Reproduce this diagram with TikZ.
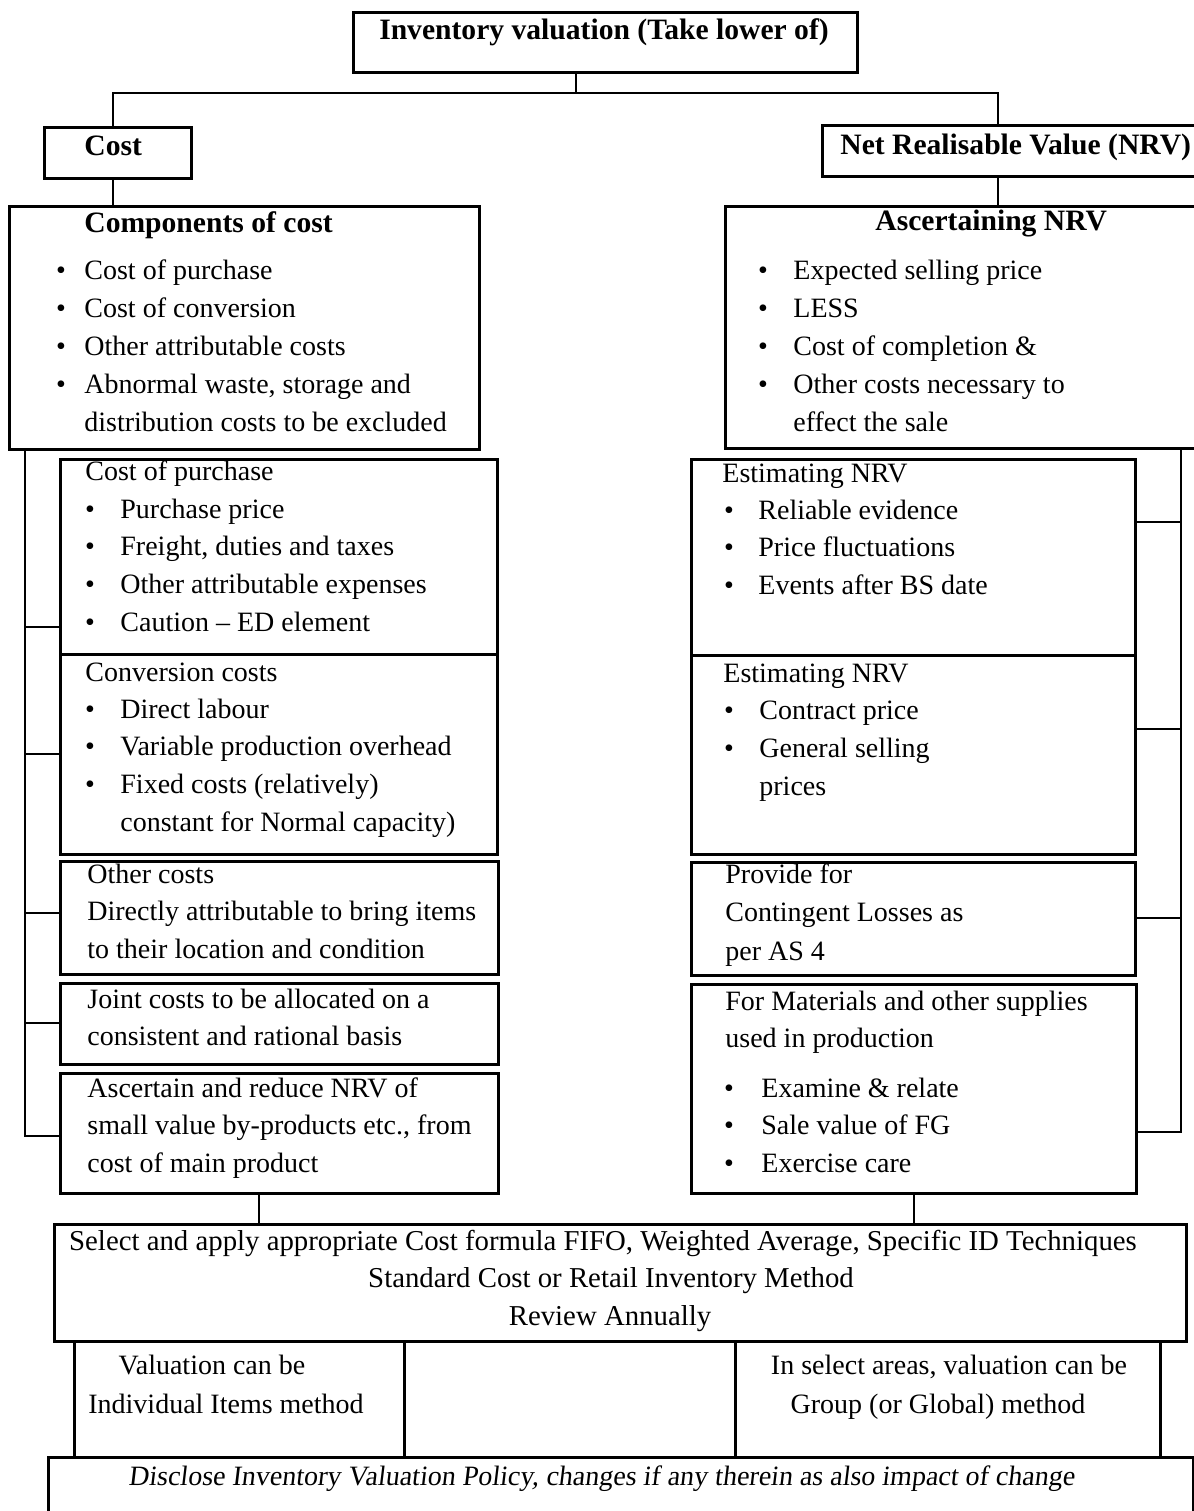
\documentclass[tikz,border=0pt]{standalone}
\usepackage{fontspec}
\setmainfont{Liberation Serif}
\newfontfamily\slantfont{Liberation Serif}[FakeSlant=0.12]
\newcommand\bodysize{\fontsize{14}{17}\selectfont}
\newcommand\widesize{\fontsize{14.4}{17}\selectfont}
\newcommand\headsize{\fontsize{14.8}{18}\selectfont\bfseries}
\tikzset{
  frame/.style={draw, line width=1.3pt, inner sep=0pt, anchor=north west},
  link/.style={line width=1pt},
  tx/.style={anchor=base west, inner sep=0pt, font=\bodysize},
  txc/.style={anchor=base, inner sep=0pt, font=\bodysize},
  hd/.style={anchor=base west, inner sep=0pt, font=\headsize},
  bul/.style={anchor=base, inner sep=0pt, font=\bodysize},
}
% frame node: name, left, top, right, bottom
\newcommand\frm[5]{\node[frame, minimum width={(#4-#2)*0.5pt}, minimum height={(#5-#3)*0.5pt}] (#1) at (#2,#3) {};}
% plain lines: name, x, first baseline, step, list
\newcommand\plainlines[5]{%
  \foreach \lineText [count=\k] in {#5}{%
    \node[tx] (#1-\k) at (#2,{#3+(\k-1)*#4}) {\lineText};}}
% bulleted lines: name, bullet x, text x, first baseline, step, list
\newcommand\bulletlines[6]{%
  \foreach \lineText [count=\k] in {#6}{%
    \node[bul] (#1-d\k) at (#2,{#4+(\k-1)*#5}) {\textbullet};
    \node[tx] (#1-\k) at (#3,{#4+(\k-1)*#5}) {\lineText};}}
\begin{document}
\begin{tikzpicture}[x=0.5pt,y=-0.5pt]
\fill[white] (0,0) rectangle (1194,1511);
\useasboundingbox (0,0) rectangle (1194,1511);
\clip (0,0) rectangle (1194,1511);

% ---- frames ----
\frm{top}{352}{11}{856}{71}
\frm{cost}{43}{126}{190}{177}
\frm{nrv}{821}{124}{1210}{175}
\frm{comp}{8}{205}{478}{448}
\frm{asc}{724}{205}{1210}{447}
\frm{l1}{59}{458}{496}{653}
\frm{l2}{59}{653}{496}{853}
\frm{l3}{59}{860}{497}{973}
\frm{l4}{59}{982}{497}{1063}
\frm{l5}{59}{1072}{497}{1192}
\frm{r1}{690}{458}{1134}{654}
\frm{r2}{690}{654}{1134}{853}
\frm{r3}{690}{861}{1134}{974}
\frm{r4}{690}{983}{1135}{1192}
\frm{sel}{53}{1223}{1185}{1340}
\frm{vi}{73}{1340}{403}{1456}
\frm{vg}{734}{1340}{1159}{1456}
\frm{disc}{47}{1456}{1192}{1540}

% ---- connectors ----
\coordinate (hubT) at (576,93);
\coordinate (hubL) at (113,93);
\coordinate (hubR) at (998,93);
\draw[link] (top.south -| hubT) -- (hubT);
\draw[link] (cost.north -| hubL) -- (hubL) -- (hubR) -- (nrv.north -| hubR);
\draw[link] (cost.south -| hubL) -- (comp.north -| hubL);
\draw[link] (nrv.south -| hubR) -- (asc.north -| hubR);

\coordinate (spL) at (25,0);
\coordinate (l1b) at (l1.west |- 0,627);
\coordinate (l2b) at (l2.west |- 0,754);
\coordinate (l3b) at (l3.west |- 0,913);
\coordinate (l4b) at (l4.west |- 0,1023);
\coordinate (l5b) at (l5.west |- 0,1136);
\draw[link] (comp.south -| spL) |- (l5b);
\foreach \b in {l1b,l2b,l3b,l4b}{\draw[link] (spL |- \b) -- (\b);}

\coordinate (spR) at (1181,0);
\coordinate (r1b) at (r1.east |- 0,522);
\coordinate (r2b) at (r2.east |- 0,729);
\coordinate (r3b) at (r3.east |- 0,918);
\coordinate (r4b) at (r4.east |- 0,1132);
\draw[link] (asc.south -| spR) |- (r4b);
\foreach \b in {r1b,r2b,r3b}{\draw[link] (spR |- \b) -- (\b);}

\draw[link] (l5.south -| 259,0) -- (sel.north -| 259,0);
\draw[link] (r4.south) -- (sel.north -| r4.south);

% ---- texts ----
\node[anchor=base, inner sep=0pt, font=\headsize] (topT) at (604,39) {Inventory valuation (Take lower of)};
\node[hd] (costT) at (84,155) {Cost};
\node[hd] (nrvT) at (840,154) {Net Realisable Value (NRV)};

\node[hd] (compT) at (84,232) {Components of cost};
\bulletlines{cb}{61}{84}{279}{38}{{Cost of purchase},{Cost of conversion},{Other attributable costs},{Abnormal waste, storage and}}
\node[tx] (cbx) at (84,431) {distribution costs to be excluded};

\node[hd] (ascT) at (875,230) {Ascertaining NRV};
\bulletlines{ab}{763}{793}{279}{38}{{Expected selling price},{LESS},{Cost of completion \&},{Other costs necessary to}}
\node[tx] (abx) at (793,431) {effect the sale};

\node[tx] (l1T) at (85,480) {Cost of purchase};
\bulletlines{l1x}{90}{120}{518}{37.7}{{Purchase price},{Freight, duties and taxes},{Other attributable expenses},{Caution -- ED element}}

\node[tx] (l2T) at (85,681) {Conversion costs};
\bulletlines{l2x}{90}{120}{718}{37.7}{{Direct labour},{Variable production overhead},{Fixed costs (relatively)}}
\node[tx] (l2c) at (120,831) {constant for Normal capacity)};

\plainlines{l3x}{87}{883}{37.5}{{Other costs},{Directly attributable to bring items},{to their location and condition}}
\plainlines{l4x}{87}{1008}{37.5}{{Joint costs to be allocated on a},{consistent and rational basis}}
\plainlines{l5x}{87}{1097}{37.5}{{Ascertain and reduce NRV of},{small value by-products etc., from},{cost of main product}}

\node[tx] (r1T) at (722,482) {Estimating NRV};
\bulletlines{r1x}{729}{758}{519}{37.7}{{Reliable evidence},{Price fluctuations},{Events after BS date}}

\node[tx] (r2T) at (723,682) {Estimating NRV};
\bulletlines{r2x}{729}{759}{719}{38}{{Contract price},{General selling}}
\node[tx] (r2c) at (759,795) {prices};

\plainlines{r3x}{725}{883}{38.5}{{Provide for},{Contingent Losses as},{per AS 4}}
\plainlines{r4x}{725}{1010}{37.5}{{For Materials and other supplies},{used in production}}
\bulletlines{r4y}{729}{761}{1097}{37.5}{{Examine \& relate},{Sale value of FG},{Exercise care}}

\node[txc, font=\widesize] (selA) at (603,1250) {Select and apply appropriate Cost formula FIFO, Weighted Average, Specific ID Techniques};
\node[txc, font=\widesize] (selB) at (611,1287) {Standard Cost or Retail Inventory Method};
\node[txc, font=\widesize] (selC) at (610,1325) {Review Annually};

\node[txc] (viA) at (212,1374) {Valuation can be};
\node[txc] (viB) at (226,1413) {Individual Items method};
\node[txc] (vgA) at (949,1374) {In select areas, valuation can be};
\node[txc] (vgB) at (938,1413) {Group (or Global) method};

\node[tx, font={\slantfont\bodysize}] (discT) at (128,1485) {Disclose Inventory Valuation Policy, changes if any therein as also impact of change};
\end{tikzpicture}
\end{document}
